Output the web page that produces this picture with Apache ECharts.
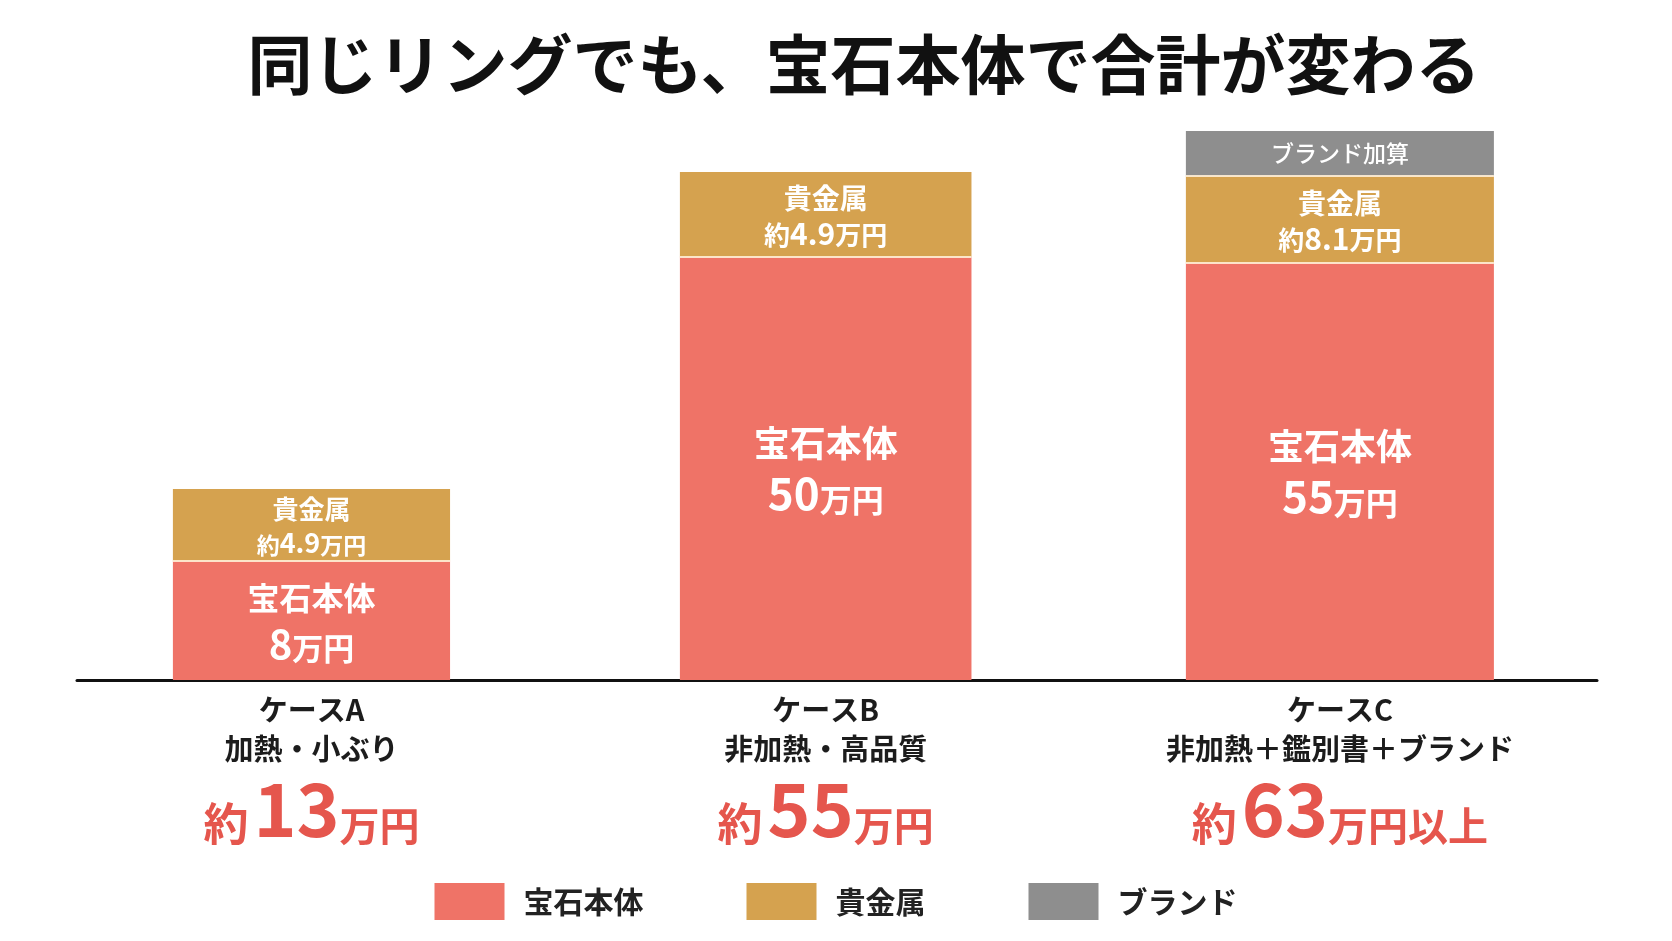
<!DOCTYPE html>
<html>
<head>
<meta charset="utf-8">
<title>宝石本体で合計が変わる</title>
<script src="https://cdn.jsdelivr.net/npm/echarts@6/dist/echarts.min.js"></script>
<style>
html, body { margin: 0; background: #fff; }
#main { width: 1672px; height: 941px; }
</style>
</head>
<body>
<div id="main"></div>
<script>
var cases = ['ケースA', 'ケースB', 'ケースC'];
var caseNotes = ['加熱・小ぶり', '非加熱・高品質', '非加熱＋鑑別書＋ブランド'];
var totals = ['13', '55', '63'];
var totalUnits = ['万円', '万円', '万円以上'];
var gemAmount = ['8', '50', '55'];        // 万円
var metalAmount = ['4.9', '4.9', '8.1'];  // 万円
// bar lengths as drawn in the picture (it is not to scale)
var gemBar = [119, 423, 417];
var metalBar = [72, 85, 87];
var brandBar = [0, 0, 45];

var FONT = "'Noto Sans CJK JP', 'Noto Sans', sans-serif";
var barWidths = [0.539, 0.567, 0.599]; // in x axis units
var colors = { gem: '#ef7367', metal: '#d5a24f', brand: '#8e8e8e' };

function stackData(lens, bases) {
	var out = [];
	for (var i = 0; i < lens.length; i++) {
		var b = 0;
		for (var k = 0; k < bases.length; k++) b += bases[k][i];
		out.push([i, b, lens[i]]);
	}
	return out;
}

function gemLabel(i) {
	var s = i === 0 ? 's' : '';
	return '{t' + s + '|宝石本体}\n{n' + s + '|' + gemAmount[i] + '}{u' + s + '|万円}';
}
function metalLabel(i) {
	var s = i === 0 ? 's' : '';
	return '{t' + s + '|貴金属}\n{p' + s + '|約}{n' + s + '|' + metalAmount[i] + '}{u' + s + '|万円}';
}
function brandLabel(i) {
	return '{t|ブランド加算}';
}

var gemRich = {
	t: { fontSize: 36, fontWeight: 'bold', lineHeight: 44, fontFamily: FONT },
	n: { fontSize: 44, fontWeight: 'bold', lineHeight: 50, verticalAlign: 'bottom', fontFamily: FONT },
	u: { fontSize: 32, fontWeight: 'bold', lineHeight: 46, verticalAlign: 'bottom', fontFamily: FONT },
	ts: { fontSize: 32, fontWeight: 'bold', lineHeight: 40, fontFamily: FONT },
	ns: { fontSize: 40, fontWeight: 'bold', lineHeight: 46, verticalAlign: 'bottom', fontFamily: FONT },
	us: { fontSize: 31, fontWeight: 'bold', lineHeight: 43, verticalAlign: 'bottom', fontFamily: FONT }
};
var metalRich = {
	t: { fontSize: 28, fontWeight: 'bold', lineHeight: 35, fontFamily: FONT },
	p: { fontSize: 26, fontWeight: 'bold', lineHeight: 31, verticalAlign: 'bottom', fontFamily: FONT },
	n: { fontSize: 30, fontWeight: 'bold', lineHeight: 33, verticalAlign: 'bottom', fontFamily: FONT },
	u: { fontSize: 26, fontWeight: 'bold', lineHeight: 31, verticalAlign: 'bottom', fontFamily: FONT },
	ts: { fontSize: 26, fontWeight: 'bold', lineHeight: 32, fontFamily: FONT },
	ps: { fontSize: 23, fontWeight: 'bold', lineHeight: 29, verticalAlign: 'bottom', fontFamily: FONT },
	ns: { fontSize: 27, fontWeight: 'bold', lineHeight: 31, verticalAlign: 'bottom', fontFamily: FONT },
	us: { fontSize: 23, fontWeight: 'bold', lineHeight: 29, verticalAlign: 'bottom', fontFamily: FONT }
};
var brandRich = {
	t: { fontSize: 23, fontWeight: 500, lineHeight: 28, fontFamily: FONT }
};

function makeRender(labelFn, rich) {
	return function(params, api) {
		var i = Math.round(api.value(0));
		var base = api.value(1);
		var len = api.value(2);
		if (!len) return null;
		var w = api.size([barWidths[i], 0])[0];
		var p0 = api.coord([i, base]);
		var p1 = api.coord([i, base + len]);
		var shape = { x: p0[0] - w / 2, y: p1[1], width: w, height: p0[1] - p1[1] };
		var children = [{
			type: 'rect',
			shape: shape,
			style: { fill: api.visual('color') },
			textContent: {
				style: {
					text: labelFn(i),
					rich: rich,
					fill: '#fff',
					align: 'center',
					verticalAlign: 'middle',
					fontFamily: FONT
				}
			},
			textConfig: { position: 'inside' }
		}];
		if (base > 0) {
			children.push({
				type: 'line',
				shape: { x1: shape.x, y1: p0[1], x2: shape.x + w, y2: p0[1] },
				style: { stroke: 'rgba(255,238,214,0.9)', lineWidth: 2 }
			});
		}
		return { type: 'group', children: children };
	};
}

var chart = echarts.init(document.getElementById('main'));

var option = {
	backgroundColor: '#fff',
	animation: false,
	title: {
		text: '同じリングでも、宝石本体で合計が変わる',
		left: 864,
		textAlign: 'center',
		top: 32,
		padding: 0,
		textStyle: { fontSize: 65, fontWeight: 'bold', color: '#111', fontFamily: FONT }
	},
	legend: {
		data: ['宝石本体', '貴金属', 'ブランド'],
		top: 878,
		left: 'center',
		icon: 'rect',
		itemWidth: 70,
		itemHeight: 37,
		itemGap: 103,
		textStyle: { fontSize: 30, fontWeight: 'bold', color: '#222', fontFamily: FONT, padding: [0, 0, 0, 14] }
	},
	grid: { left: 77, right: 75, top: 120, bottom: 261 },
	xAxis: {
		type: 'value',
		min: -0.456,
		max: 2.5,
		splitLine: { show: false },
		axisTick: { show: false },
		axisLine: { show: true, lineStyle: { color: '#111', width: 3 } },
		axisLabel: {
			customValues: [0, 1, 2],
			margin: 10,
			formatter: function(v) {
				var i = Math.round(v);
				return '{c|' + cases[i] + '}\n{d|' + caseNotes[i] + '}\n{g| }\n{p|約}{v|' + totals[i] + '}{u|' + totalUnits[i] + '}';
			},
			rich: {
				c: { fontSize: 29, fontWeight: 'bold', color: '#1c1c1c', lineHeight: 39, fontFamily: FONT },
				d: { fontSize: 29, fontWeight: 'bold', color: '#1c1c1c', lineHeight: 39, fontFamily: FONT },
				g: { fontSize: 8, lineHeight: 8 },
				p: { fontSize: 45, fontWeight: 'bold', color: '#e5564d', lineHeight: 46, verticalAlign: 'bottom', padding: [0, 5, 0, 0], fontFamily: FONT },
				v: { fontSize: 73, fontWeight: 'bold', color: '#e5564d', lineHeight: 70, verticalAlign: 'bottom', fontFamily: FONT },
				u: { fontSize: 40, fontWeight: 'bold', color: '#e5564d', lineHeight: 42, verticalAlign: 'bottom', fontFamily: FONT }
			}
		}
	},
	yAxis: {
		type: 'value',
		min: 0,
		max: 560,
		show: false
	},
	series: [{
		name: '宝石本体',
		type: 'custom',
		itemStyle: { color: colors.gem },
		renderItem: makeRender(gemLabel, gemRich),
		data: stackData(gemBar, [])
	}, {
		name: '貴金属',
		type: 'custom',
		itemStyle: { color: colors.metal },
		renderItem: makeRender(metalLabel, metalRich),
		data: stackData(metalBar, [gemBar])
	}, {
		name: 'ブランド',
		type: 'custom',
		itemStyle: { color: colors.brand },
		renderItem: makeRender(brandLabel, brandRich),
		data: stackData(brandBar, [gemBar, metalBar])
	}]
};

chart.setOption(option);
</script>
</body>
</html>
